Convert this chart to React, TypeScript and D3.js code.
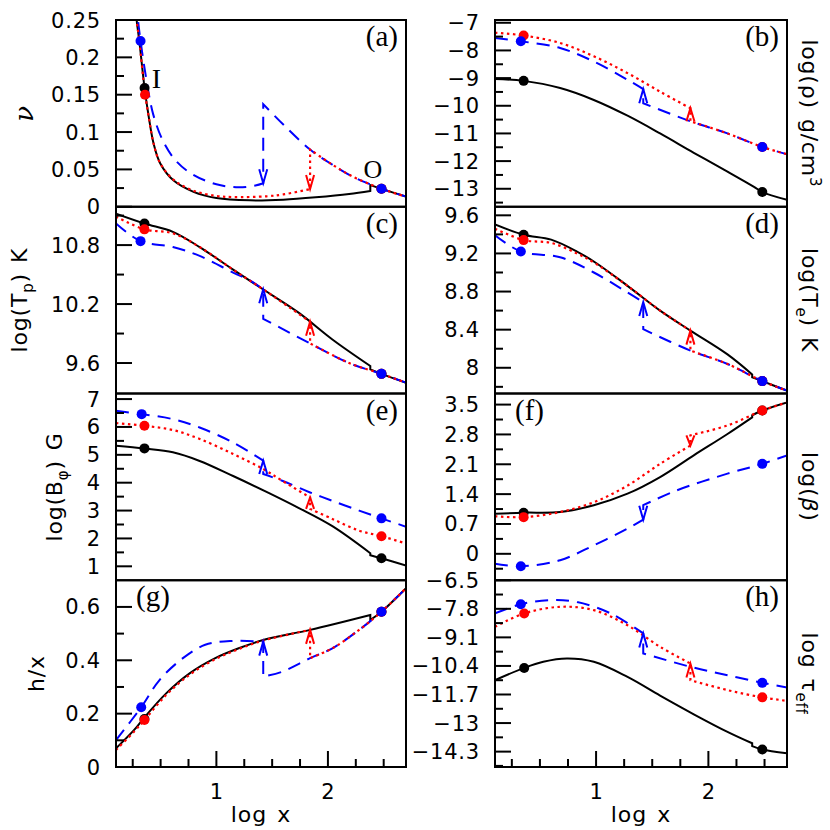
import React from 'react';
import * as d3 from 'd3';

type Pt = [number, number];

// ---------- shared x axis (log x) ----------
const logXDomain: Pt = [0.1, 2.7];
const xMajorTicks = [1, 2];
const xMinorTicks = [0.25, 0.5, 0.75, 1.25, 1.5, 1.75, 2.25, 2.5];

// ---------- (a) v ----------
const aTicks = [0, 0.05, 0.1, 0.15, 0.2, 0.25];
const aLabels = ['0', '0.05', '0.1', '0.15', '0.2', '0.25'];
const aMinor = [0.025, 0.075, 0.125, 0.175, 0.225];
const aBlack: Pt[] = [[0.27, 0.285], [0.285, 0.25], [0.309, 0.222], [0.356, 0.159], [0.394, 0.12], [0.438, 0.084], [0.497, 0.058], [0.617, 0.035], [0.795, 0.02], [1.0, 0.0117], [1.3, 0.0086], [1.6, 0.0095], [1.89, 0.0126], [2.19, 0.017], [2.38, 0.0212], [2.38, 0.029], [2.48, 0.024], [2.7, 0.0135]];
const aRed: Pt[] = [[0.27, 0.285], [0.285, 0.25], [0.309, 0.222], [0.36, 0.152], [0.394, 0.12], [0.438, 0.084], [0.497, 0.058], [0.617, 0.036], [0.795, 0.0215], [1.0, 0.0145], [1.15, 0.013], [1.45, 0.014], [1.6, 0.0165], [1.84, 0.0237], [1.84, 0.0766], [2.04, 0.0563], [2.22, 0.0405], [2.38, 0.03], [2.48, 0.024], [2.7, 0.0135]];
const aBlue: Pt[] = [[0.28, 0.275], [0.297, 0.25], [0.32, 0.222], [0.374, 0.169], [0.433, 0.124], [0.522, 0.088], [0.64, 0.061], [0.79, 0.043], [1.0, 0.03], [1.2, 0.026], [1.35, 0.0285], [1.42, 0.0315], [1.42, 0.1374], [1.6, 0.11], [1.84, 0.0766], [2.04, 0.0563], [2.22, 0.0405], [2.38, 0.03], [2.48, 0.024], [2.7, 0.0135]];
const aDotsBlack: Pt[] = [[0.356, 0.159], [2.48, 0.024]];
const aDotsRed: Pt[] = [[0.36, 0.15], [2.48, 0.024]];
const aDotsBlue: Pt[] = [[0.32, 0.222], [2.48, 0.024]];

// ---------- (b) log rho ----------
const bTicks = [-7, -8, -9, -10, -11, -12, -13];
const bLabels = ['−7', '−8', '−9', '−10', '−11', '−12', '−13'];
const bMinor = [-7.5, -8.5, -9.5, -10.5, -11.5, -12.5, -13.5];
const bBlack: Pt[] = [[0.1, -9.03], [0.355, -9.1], [0.68, -9.36], [0.98, -9.79], [1.28, -10.36], [1.57, -11.0], [1.87, -11.7], [2.17, -12.38], [2.41, -12.94], [2.48, -13.12], [2.7, -13.4]];
const bRed: Pt[] = [[0.1, -7.36], [0.355, -7.46], [0.68, -7.73], [0.98, -8.21], [1.28, -8.82], [1.57, -9.49], [1.84, -10.09], [1.84, -10.56], [2.17, -11.0], [2.48, -11.49], [2.7, -11.75]];
const bBlue: Pt[] = [[0.1, -7.55], [0.33, -7.67], [0.68, -7.91], [0.98, -8.4], [1.28, -9.06], [1.42, -9.4], [1.42, -9.91], [1.84, -10.56], [2.17, -11.0], [2.48, -11.49], [2.7, -11.75]];
const bDotsBlack: Pt[] = [[0.355, -9.1], [2.48, -13.12]];
const bDotsRed: Pt[] = [[0.355, -7.46], [2.48, -11.49]];
const bDotsBlue: Pt[] = [[0.33, -7.67], [2.48, -11.49]];

// ---------- (c) log Tp ----------
const cTicks = [9.6, 10.2, 10.8];
const cLabels = ['9.6', '10.2', '10.8'];
const cMinor = [9.9, 10.5, 11.1];
const cBlack: Pt[] = [[0.1, 11.12], [0.355, 11.02], [0.61, 10.935], [0.85, 10.78], [1.15, 10.55], [1.445, 10.33], [1.74, 10.11], [2.04, 9.84], [2.38, 9.57], [2.38, 9.535], [2.48, 9.49], [2.7, 9.4]];
const cRed: Pt[] = [[0.1, 11.09], [0.355, 10.96], [0.61, 10.92], [0.85, 10.78], [1.15, 10.55], [1.445, 10.33], [1.84, 10.02], [1.84, 9.8], [2.19, 9.6], [2.48, 9.49], [2.7, 9.4]];
const cBlue: Pt[] = [[0.1, 11.02], [0.32, 10.84], [0.61, 10.78], [0.85, 10.69], [1.15, 10.52], [1.3, 10.44], [1.42, 10.35], [1.42, 10.05], [1.84, 9.8], [2.19, 9.6], [2.48, 9.49], [2.7, 9.4]];
const cDotsBlack: Pt[] = [[0.355, 11.02], [2.48, 9.49]];
const cDotsRed: Pt[] = [[0.355, 10.96], [2.48, 9.49]];
const cDotsBlue: Pt[] = [[0.32, 10.84], [2.48, 9.49]];

// ---------- (d) log Te ----------
const dTicks = [8, 8.4, 8.8, 9.2, 9.6];
const dLabels = ['8', '8.4', '8.8', '9.2', '9.6'];
const dMinor = [7.8, 8.2, 8.6, 9.0, 9.4];
const dBlack: Pt[] = [[0.1, 9.505], [0.355, 9.397], [0.6, 9.345], [0.83, 9.22], [1.0, 9.1], [1.28, 8.86], [1.57, 8.6], [1.84, 8.39], [2.17, 8.14], [2.39, 7.93], [2.39, 7.9], [2.48, 7.86], [2.7, 7.76]];
const dRed: Pt[] = [[0.1, 9.46], [0.355, 9.34], [0.6, 9.31], [0.83, 9.2], [1.0, 9.09], [1.28, 8.86], [1.57, 8.6], [1.84, 8.39], [1.84, 8.18], [2.17, 8.04], [2.48, 7.86], [2.7, 7.76]];
const dBlue: Pt[] = [[0.1, 9.39], [0.33, 9.22], [0.68, 9.16], [0.98, 9.0], [1.28, 8.79], [1.42, 8.69], [1.42, 8.405], [1.84, 8.18], [2.17, 8.04], [2.48, 7.86], [2.7, 7.76]];
const dDotsBlack: Pt[] = [[0.355, 9.397], [2.48, 7.86]];
const dDotsRed: Pt[] = [[0.355, 9.34], [2.48, 7.86]];
const dDotsBlue: Pt[] = [[0.33, 9.22], [2.48, 7.86]];

// ---------- (e) log B_phi ----------
const eTicks = [1, 2, 3, 4, 5, 6, 7];
const eLabels = ['1', '2', '3', '4', '5', '6', '7'];
const eMinor = [1.5, 2.5, 3.5, 4.5, 5.5, 6.5];
const eBlack: Pt[] = [[0.1, 5.33], [0.355, 5.23], [0.61, 5.09], [0.85, 4.78], [1.15, 4.24], [1.445, 3.68], [1.74, 3.09], [2.04, 2.44], [2.38, 1.47], [2.38, 1.4], [2.48, 1.29], [2.7, 1.03]];
const eRed: Pt[] = [[0.1, 6.14], [0.355, 6.04], [0.61, 5.89], [0.85, 5.57], [1.15, 5.03], [1.42, 4.49], [1.59, 4.07], [1.84, 3.47], [1.84, 3.06], [2.04, 2.7], [2.28, 2.28], [2.48, 2.08], [2.7, 1.82]];
const eBlue: Pt[] = [[0.1, 6.58], [0.33, 6.46], [0.61, 6.28], [0.85, 5.98], [1.15, 5.44], [1.42, 4.79], [1.42, 4.31], [1.59, 4.07], [1.84, 3.65], [2.04, 3.35], [2.28, 3.0], [2.48, 2.72], [2.7, 2.42]];
const eDotsBlack: Pt[] = [[0.355, 5.23], [2.48, 1.29]];
const eDotsRed: Pt[] = [[0.355, 6.04], [2.48, 2.08]];
const eDotsBlue: Pt[] = [[0.33, 6.46], [2.48, 2.72]];

// ---------- (f) log beta ----------
const fTicks = [0, 0.7, 1.4, 2.1, 2.8, 3.5];
const fLabels = ['0', '0.7', '1.4', '2.1', '2.8', '3.5'];
const fMinor = [-0.35, 0.35, 1.05, 1.75, 2.45, 3.15];
const fBlack: Pt[] = [[0.1, 0.94], [0.355, 0.965], [0.68, 0.98], [0.98, 1.14], [1.28, 1.41], [1.57, 1.8], [1.87, 2.31], [2.17, 2.81], [2.39, 3.2], [2.39, 3.25], [2.48, 3.36], [2.7, 3.55]];
const fRed: Pt[] = [[0.1, 0.88], [0.355, 0.86], [0.68, 0.98], [0.98, 1.21], [1.28, 1.6], [1.57, 2.11], [1.84, 2.54], [1.84, 2.78], [2.17, 3.01], [2.48, 3.36], [2.7, 3.55]];
const fBlue: Pt[] = [[0.1, -0.23], [0.33, -0.29], [0.68, -0.15], [0.98, 0.2], [1.28, 0.59], [1.42, 0.8], [1.42, 1.14], [1.72, 1.49], [2.17, 1.88], [2.48, 2.11], [2.7, 2.31]];
const fDotsBlack: Pt[] = [[0.355, 0.965], [2.48, 3.36]];
const fDotsRed: Pt[] = [[0.355, 0.86], [2.48, 3.36]];
const fDotsBlue: Pt[] = [[0.33, -0.29], [2.48, 2.11]];

// ---------- (g) h/x ----------
const gTicks = [0, 0.2, 0.4, 0.6];
const gLabels = ['0', '0.2', '0.4', '0.6'];
const gMinor = [0.1, 0.3, 0.5];
const gBlack: Pt[] = [[0.1, 0.07], [0.263, 0.139], [0.355, 0.186], [0.55, 0.276], [0.76, 0.351], [0.99, 0.408], [1.2, 0.445], [1.42, 0.476], [1.84, 0.514], [2.38, 0.57], [2.38, 0.551], [2.48, 0.582], [2.7, 0.67]];
const gRed: Pt[] = [[0.1, 0.064], [0.263, 0.133], [0.355, 0.176], [0.55, 0.27], [0.76, 0.346], [0.99, 0.404], [1.2, 0.442], [1.42, 0.474], [1.84, 0.514], [1.84, 0.408], [2.04, 0.445], [2.28, 0.514], [2.48, 0.582], [2.7, 0.67]];
const gBlue: Pt[] = [[0.1, 0.101], [0.326, 0.224], [0.49, 0.326], [0.7, 0.408], [0.9, 0.458], [1.14, 0.4725], [1.42, 0.47], [1.42, 0.339], [1.59, 0.357], [1.84, 0.408], [2.04, 0.445], [2.28, 0.514], [2.48, 0.582], [2.7, 0.67]];
const gDotsBlack: Pt[] = [[0.355, 0.18], [2.48, 0.582]];
const gDotsRed: Pt[] = [[0.355, 0.176], [2.48, 0.582]];
const gDotsBlue: Pt[] = [[0.326, 0.224], [2.48, 0.582]];

// ---------- (h) log tau_eff ----------
const hTicks = [-6.5, -7.8, -9.1, -10.4, -11.7, -13, -14.3];
const hLabels = ['−6.5', '−7.8', '−9.1', '−10.4', '−11.7', '−13', '−14.3'];
const hMinor = [-7.15, -8.45, -9.75, -11.05, -12.35, -13.65, -14.95];
const hBlack: Pt[] = [[0.1, -11.05], [0.36, -10.49], [0.53, -10.21], [0.74, -10.06], [0.98, -10.21], [1.28, -10.9], [1.57, -11.75], [1.87, -12.6], [2.17, -13.4], [2.39, -13.92], [2.39, -14.05], [2.48, -14.2], [2.7, -14.38]];
const hRed: Pt[] = [[0.1, -8.62], [0.36, -8.01], [0.68, -7.71], [0.98, -7.86], [1.28, -8.55], [1.57, -9.53], [1.84, -10.29], [1.84, -11.05], [2.17, -11.5], [2.48, -11.83], [2.7, -11.99]];
const hBlue: Pt[] = [[0.1, -8.01], [0.33, -7.59], [0.59, -7.41], [0.83, -7.49], [1.13, -8.01], [1.42, -8.92], [1.42, -9.83], [1.84, -10.44], [2.17, -10.82], [2.48, -11.17], [2.7, -11.38]];
const hDotsBlack: Pt[] = [[0.36, -10.49], [2.48, -14.2]];
const hDotsRed: Pt[] = [[0.36, -8.01], [2.48, -11.83]];
const hDotsBlue: Pt[] = [[0.33, -7.59], [2.48, -11.17]];

// ---------- layout ----------
const COL_X: Pt[] = [[116, 406], [495, 787]];
const TOP = 20;
const PH = 186.75;
const SANS = 'DejaVu Sans';
const SERIF = 'Liberation Serif';
const BLACK = '#000000';
const RED = '#ff0000';
const BLUE = '#0000ff';

type Panel = {
  key: string; col: number; row: number; yDomain: Pt;
  ticks: number[]; labels: string[]; minor: number[];
  black: Pt[]; red: Pt[]; blue: Pt[];
  dotsBlack: Pt[]; dotsRed: Pt[]; dotsBlue: Pt[];
  letterLeft: boolean; title: React.ReactNode; titleX: number; bottom: boolean;
};

const sub = (s: string) => [
  <tspan key="s" dy={6} fontSize={15}>{s}</tspan>,
];

const panels: Panel[] = [
  { key: 'a', col: 0, row: 0, yDomain: [0, 0.25], ticks: aTicks, labels: aLabels, minor: aMinor, black: aBlack, red: aRed, blue: aBlue, dotsBlack: aDotsBlack, dotsRed: aDotsRed, dotsBlue: aDotsBlue, letterLeft: false, titleX: 33, bottom: false,
    title: <tspan fontFamily="DejaVu Serif" fontStyle="italic" fontSize={26}>ν</tspan> },
  { key: 'b', col: 1, row: 0, yDomain: [-13.65, -6.9], ticks: bTicks, labels: bLabels, minor: bMinor, black: bBlack, red: bRed, blue: bBlue, dotsBlack: bDotsBlack, dotsRed: bDotsRed, dotsBlue: bDotsBlue, letterLeft: false, titleX: 802, bottom: false,
    title: <>log(ρ)<tspan dx={10}>g/cm</tspan><tspan dy={-8} fontSize={15}>3</tspan></> },
  { key: 'c', col: 0, row: 1, yDomain: [9.29, 11.19], ticks: cTicks, labels: cLabels, minor: cMinor, black: cBlack, red: cRed, blue: cBlue, dotsBlack: cDotsBlack, dotsRed: cDotsRed, dotsBlue: cDotsBlue, letterLeft: false, titleX: 27, bottom: false,
    title: <>log(T{sub('p')}<tspan dy={-6}>)</tspan><tspan dx={10}>K</tspan></> },
  { key: 'd', col: 1, row: 1, yDomain: [7.73, 9.69], ticks: dTicks, labels: dLabels, minor: dMinor, black: dBlack, red: dRed, blue: dBlue, dotsBlack: dDotsBlack, dotsRed: dDotsRed, dotsBlue: dDotsBlue, letterLeft: false, titleX: 802, bottom: false,
    title: <>log(T{sub('e')}<tspan dy={-6}>)</tspan><tspan dx={10}>K</tspan></> },
  { key: 'e', col: 0, row: 2, yDomain: [0.5, 7.2], ticks: eTicks, labels: eLabels, minor: eMinor, black: eBlack, red: eRed, blue: eBlue, dotsBlack: eDotsBlack, dotsRed: eDotsRed, dotsBlue: eDotsBlue, letterLeft: false, titleX: 62, bottom: false,
    title: <>log(B{sub('φ')}<tspan dy={-6}>)</tspan><tspan dx={10}>G</tspan></> },
  { key: 'f', col: 1, row: 2, yDomain: [-0.62, 3.76], ticks: fTicks, labels: fLabels, minor: fMinor, black: fBlack, red: fRed, blue: fBlue, dotsBlack: fDotsBlack, dotsRed: fDotsRed, dotsBlue: fDotsBlue, letterLeft: true, titleX: 802, bottom: false,
    title: <>log(<tspan fontStyle="italic">β</tspan>)</> },
  { key: 'g', col: 0, row: 3, yDomain: [0, 0.7], ticks: gTicks, labels: gLabels, minor: gMinor, black: gBlack, red: gRed, blue: gBlue, dotsBlack: gDotsBlack, dotsRed: gDotsRed, dotsBlue: gDotsBlue, letterLeft: true, titleX: 44, bottom: true,
    title: <>h/x</> },
  { key: 'h', col: 1, row: 3, yDomain: [-15.0, -6.5], ticks: hTicks, labels: hLabels, minor: hMinor, black: hBlack, red: hRed, blue: hBlue, dotsBlack: hDotsBlack, dotsRed: hDotsRed, dotsBlue: hDotsBlue, letterLeft: false, titleX: 802, bottom: true,
    title: <>log<tspan dx={10}>τ</tspan>{sub('eff')}</> },
];

function splitSegments(pts: Pt[]): Pt[][] {
  const segs: Pt[][] = [];
  let cur: Pt[] = [];
  pts.forEach((p, i) => {
    if (i > 0 && p[0] <= pts[i - 1][0]) { segs.push(cur); cur = []; }
    cur.push(p);
  });
  segs.push(cur);
  return segs;
}

function PanelView({ p }: { p: Panel }) {
  const [x0, x1] = COL_X[p.col];
  const y0 = TOP + p.row * PH;
  const y1 = y0 + PH;
  const x = d3.scaleLinear().domain(logXDomain).range([x0, x1]);
  const y = d3.scaleLinear().domain(p.yDomain).range([y1, y0]);
  const line = d3.line<Pt>().x(d => x(d[0])).y(d => y(d[1])).curve(d3.curveCatmullRom.alpha(0.5));
  const pathFor = (pts: Pt[]) =>
    splitSegments(pts).map((s, i) => {
      const d = line(s) || '';
      return i === 0 ? d : 'L' + d.slice(1);
    }).join('');
  const arrows = (pts: Pt[]) => {
    const out: string[] = [];
    for (let i = 1; i < pts.length; i++) {
      if (pts[i][0] === pts[i - 1][0]) {
        const tx = x(pts[i - 1][0]);
        const ty = y(pts[i - 1][1]);
        const fy = y(pts[i][1]);
        const dir = ty > fy ? 1 : -1;
        const L = Math.min(14, Math.abs(ty - fy));
        out.push(`M${tx - 4},${ty - dir * L}L${tx},${ty}L${tx + 4},${ty - dir * L}`);
      }
    }
    return out;
  };
  const clipId = `clip-${p.key}`;
  const isRight = p.col === 1;
  const labelX = x0 - 15;
  const cy = (y0 + y1) / 2;
  return (
    <g>
      <defs>
        <clipPath id={clipId}><rect x={x0} y={y0} width={x1 - x0} height={PH} /></clipPath>
      </defs>
      <g clipPath={`url(#${clipId})`}>
        <path d={pathFor(p.black)} fill="none" stroke={BLACK} strokeWidth={2} />
        <path d={pathFor(p.blue)} fill="none" stroke={BLUE} strokeWidth={2} strokeDasharray="13 8" />
        <path d={pathFor(p.red)} fill="none" stroke={RED} strokeWidth={2.2} strokeDasharray="2.5 3.5" />
        {arrows(p.blue).map((d, i) => <path key={'ab' + i} d={d} fill="none" stroke={BLUE} strokeWidth={2} />)}
        {arrows(p.red).map((d, i) => <path key={'ar' + i} d={d} fill="none" stroke={RED} strokeWidth={2} />)}
        {p.dotsBlack.map((d, i) => <circle key={'db' + i} cx={x(d[0])} cy={y(d[1])} r={5} fill={BLACK} />)}
        {p.dotsRed.map((d, i) => <circle key={'dr' + i} cx={x(d[0])} cy={y(d[1])} r={5} fill={RED} />)}
        {p.dotsBlue.map((d, i) => <circle key={'dl' + i} cx={x(d[0])} cy={y(d[1])} r={5} fill={BLUE} />)}
      </g>
      <rect x={x0} y={y0} width={x1 - x0} height={PH} fill="none" stroke="#000" strokeWidth={2} />
      {p.ticks.map((t, i) => (
        <g key={'t' + i}>
          <line x1={x0} x2={x0 + 16} y1={y(t)} y2={y(t)} stroke="#000" strokeWidth={2} />
          <text x={labelX} y={y(t) + 7.5} textAnchor="end" fontFamily={SANS} fontSize={21} letterSpacing={0.8}>{p.labels[i]}</text>
        </g>
      ))}
      {p.minor.filter(t => t > p.yDomain[0] && t < p.yDomain[1]).map((t, i) => (
        <line key={'m' + i} x1={x0} x2={x0 + 8} y1={y(t)} y2={y(t)} stroke="#000" strokeWidth={2} />
      ))}
      {p.bottom && (
        <g>
          {xMajorTicks.map(t => (
            <g key={'xm' + t}>
              <line x1={x(t)} x2={x(t)} y1={y1} y2={y1 - 16} stroke="#000" strokeWidth={2} />
              <text x={x(t)} y={y1 + 32} textAnchor="middle" fontFamily={SANS} fontSize={21}>{t}</text>
            </g>
          ))}
          {xMinorTicks.map(t => (
            <line key={'xn' + t} x1={x(t)} x2={x(t)} y1={y1} y2={y1 - 8} stroke="#000" strokeWidth={2} />
          ))}
          <text x={(x0 + x1) / 2} y={y1 + 55} textAnchor="middle" fontFamily={SANS} fontSize={22} letterSpacing={1}>log<tspan dx={10}>x</tspan></text>
        </g>
      )}
      <text transform={`translate(${p.titleX},${cy}) rotate(${isRight ? 90 : -90})`} textAnchor="middle" fontFamily={SANS} fontSize={22} letterSpacing={0.8}>{p.title}</text>
      <text x={p.letterLeft ? x0 + 20 : x1 - 8} y={y0 + 26} textAnchor={p.letterLeft ? 'start' : 'end'} fontFamily={SERIF} fontSize={29}>({p.key})</text>
    </g>
  );
}

export default function App() {
  const xa = d3.scaleLinear().domain(logXDomain).range(COL_X[0]);
  const ya = d3.scaleLinear().domain([0, 0.25]).range([TOP + PH, TOP]);
  return (
    <svg width={830} height={830} style={{ position: 'absolute', left: 0, top: 0, background: '#fff' }}>
      <rect x={0} y={0} width={830} height={830} fill="#fff" />
      {panels.map(p => <PanelView key={p.key} p={p} />)}
      <text x={xa(0.42)} y={ya(0.159)} fontFamily={SERIF} fontSize={28}>I</text>
      <text x={xa(2.32)} y={ya(0.039)} fontFamily={SERIF} fontSize={26}>O</text>
    </svg>
  );
}
